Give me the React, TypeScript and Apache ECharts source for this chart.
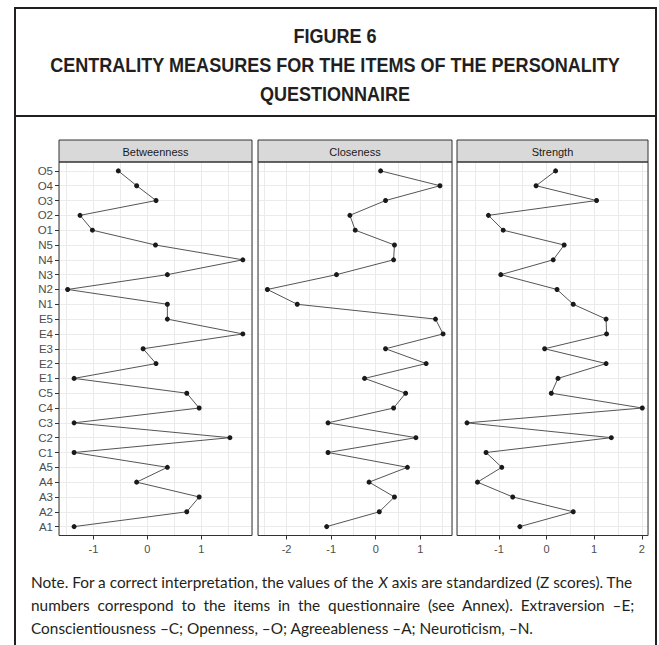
import React, { useEffect, useRef } from 'react';
import * as echarts from 'echarts';

// Items, bottom (A1) to top (O5)
const items = [
  'A1', 'A2', 'A3', 'A4', 'A5',
  'C1', 'C2', 'C3', 'C4', 'C5',
  'E1', 'E2', 'E3', 'E4', 'E5',
  'N1', 'N2', 'N3', 'N4', 'N5',
  'O1', 'O2', 'O3', 'O4', 'O5',
];

const measures = ['Betweenness', 'Closeness', 'Strength'];

const betweenness = [
  -1.36, 0.73, 0.96, -0.2, 0.37,
  -1.36, 1.53, -1.36, 0.96, 0.73,
  -1.36, 0.16, -0.08, 1.77, 0.37,
  0.37, -1.48, 0.37, 1.77, 0.15,
  -1.02, -1.25, 0.16, -0.2, -0.54,
];

const closeness = [
  -1.1, 0.08, 0.42, -0.15, 0.71,
  -1.07, 0.9, -1.07, 0.4, 0.67,
  -0.25, 1.13, 0.22, 1.51, 1.34,
  -1.76, -2.43, -0.88, 0.4, 0.42,
  -0.46, -0.58, 0.22, 1.44, 0.11,
];

const strength = [
  -0.56, 0.56, -0.71, -1.45, -0.94,
  -1.27, 1.36, -1.67, 2.01, 0.1,
  0.24, 1.25, -0.04, 1.26, 1.25,
  0.56, 0.22, -0.96, 0.14, 0.37,
  -0.91, -1.22, 1.05, -0.22, 0.19,
];

const xTickLabels = [
  [-1, 0, 1],
  [-2, -1, 0, 1],
  [-1, 0, 1, 2],
];

const titleLines = [
  'FIGURE 6',
  'CENTRALITY MEASURES FOR THE ITEMS OF THE PERSONALITY',
  'QUESTIONNAIRE',
];

const noteLine1 = ['Note. For a correct interpretation, the values of the ', 'X', ' axis are standardized (Z scores). The'];
const noteLine2 = 'numbers correspond to the items in the questionnaire (see Annex). Extraversion \u2013E;';
const noteLine3 = 'Conscientiousness \u2013C; Openness, \u2013O; Agreeableness \u2013A; Neuroticism, \u2013N.';

const W = 659;
const H = 645;

// layout
const panels = [
  { left: 59, width: 193, min: -1.64, max: 1.94, split: 7 },
  { left: 258, width: 194, min: -2.64, max: 1.71, split: 8 },
  { left: 457, width: 191, min: -1.88, max: 2.13, split: 8 },
];
const stripTop = 140;
const gridTop = 162;
const gridBottom = 535.5;

const AXIS_FONT = "'Liberation Sans', Arial, sans-serif";
const TITLE_FONT = "'Liberation Sans', Arial, sans-serif";
const NOTE_FONT = "Lato, 'Noto Sans', sans-serif";

function measure(text: string, font: string): number {
  const c = document.createElement('canvas').getContext('2d');
  if (!c) return text.length * 7;
  c.font = font;
  return c.measureText(text).width;
}

export default function App() {
  const ref = useRef<HTMLDivElement>(null);

  useEffect(() => {
    if (!ref.current) return;
    const chart = echarts.init(ref.current, undefined, { renderer: 'svg' });

    // title: fixed size, horizontally condensed to fit
    const titleSize = 21;
    const tW = measure(titleLines[1], `bold ${titleSize}px ${TITLE_FONT}`);
    const titleScale = Math.min(1, 570 / tW);

    // note font size fit
    const noteLeft = 31;
    const noteWidth = 602;
    const n1 =
      measure(noteLine1[0], `100px ${NOTE_FONT}`) +
      measure(noteLine1[1], `italic 100px ${NOTE_FONT}`) +
      measure(noteLine1[2], `100px ${NOTE_FONT}`);
    const noteSize = Math.min(15.5, (noteWidth * 100) / n1);
    // justify line 2 by adding spaces
    const l2w = measure(noteLine2, `${noteSize}px ${NOTE_FONT}`);
    const spW = measure(' ', `${noteSize}px ${NOTE_FONT}`);
    const words2 = noteLine2.split(' ');
    const extra = Math.max(0, Math.round((noteWidth - l2w) / spW));
    const gaps = words2.length - 1;
    let line2 = words2[0];
    for (let i = 1; i < words2.length; i++) {
      const add = Math.floor((extra * i) / gaps) - Math.floor((extra * (i - 1)) / gaps);
      line2 += ' '.repeat(1 + add) + words2[i];
    }

    const seriesData = [betweenness, closeness, strength];

    const grids = panels.map((p) => ({
      left: p.left,
      top: gridTop,
      width: p.width,
      height: gridBottom - gridTop,
      containLabel: false,
      show: false,
    }));

    const xAxes: any[] = [];
    panels.forEach((p, i) => {
      xAxes.push({
        type: 'value',
        gridIndex: i,
        min: p.min,
        max: p.max,
        splitNumber: p.split,
        position: 'bottom',
        axisLine: { show: false, onZero: false },
        axisTick: { show: false },
        axisLabel: {
          show: true,
          margin: 8,
          color: '#4d4d4d',
          fontSize: 11,
          fontFamily: AXIS_FONT,
          formatter: (v: number) => (Math.abs(v - Math.round(v)) < 1e-6 ? String(Math.round(v)) : ''),
        },
        splitLine: { show: true, lineStyle: { color: '#ebebeb', width: 1 } },
      });
    });
    panels.forEach((p, i) => {
      xAxes.push({
        type: 'value',
        gridIndex: i,
        min: p.min,
        max: p.max,
        position: 'bottom',
        offset: 0,
        axisLine: { show: false, onZero: false },
        axisTick: { show: true, length: 4, customValues: xTickLabels[i], lineStyle: { color: '#333333', width: 1 } },
        axisLabel: { show: false },
        splitLine: { show: false },
      });
    });

    const yAxes = panels.map((p, i) => ({
      type: 'value',
      gridIndex: i,
      min: -0.6,
      max: 24.6,
      splitNumber: 25,
      position: 'left',
      axisLine: { show: false, onZero: false },
      axisTick: {
        show: i === 0,
        length: 4,
        customValues: items.map((_, j) => j),
        lineStyle: { color: '#333333', width: 1 },
      },
      axisLabel: {
        show: i === 0,
        margin: 6,
        color: '#4d4d4d',
        fontSize: 11.5,
        fontFamily: AXIS_FONT,
        formatter: (v: number) =>
          Math.abs(v - Math.round(v)) < 1e-6 && Math.round(v) >= 0 && Math.round(v) < items.length
            ? items[Math.round(v)]
            : '',
      },
      splitLine: { show: true, lineStyle: { color: '#ebebeb', width: 1 } },
    }));

    const series = seriesData.map((vals, i) => ({
      type: 'line',
      name: measures[i],
      xAxisIndex: i,
      yAxisIndex: i,
      data: vals.map((v, j) => [v, j]),
      symbol: 'circle',
      symbolSize: 5,
      showSymbol: true,
      itemStyle: { color: '#1a1a1a' },
      lineStyle: { color: '#555555', width: 1 },
      z: 3,
    }));

    const graphics: any[] = [];
    const border = '#231f20';
    // frame
    graphics.push({ type: 'line', shape: { x1: 15, y1: 8, x2: 15, y2: H }, style: { stroke: border, lineWidth: 2 }, z: 20 });
    graphics.push({ type: 'line', shape: { x1: 656, y1: 8, x2: 656, y2: H }, style: { stroke: border, lineWidth: 2 }, z: 20 });
    graphics.push({ type: 'line', shape: { x1: 14, y1: 8, x2: 657, y2: 8 }, style: { stroke: border, lineWidth: 2 }, z: 20 });
    graphics.push({ type: 'line', shape: { x1: 14, y1: 116, x2: 657, y2: 116 }, style: { stroke: border, lineWidth: 2 }, z: 20 });

    // title
    const titleY = [35, 64, 93];
    titleLines.forEach((t, i) => {
      graphics.push({
        type: 'text',
        z: 20,
        x: 335,
        y: titleY[i],
        scaleX: titleScale,
        style: {
          text: t,
          x: 0,
          y: 0,
          align: 'center',
          verticalAlign: 'middle',
          textAlign: 'center',
          textVerticalAlign: 'middle',
          fill: border,
          fontSize: titleSize,
          fontWeight: 'bold',
          fontFamily: TITLE_FONT,
        },
      });
    });

    // strips and panel borders
    panels.forEach((p, i) => {
      graphics.push({
        type: 'rect',
        z: 10,
        shape: { x: p.left, y: stripTop, width: p.width, height: gridTop - stripTop },
        style: { fill: '#d9d9d9', stroke: '#333333', lineWidth: 1 },
      });
      graphics.push({
        type: 'text',
        z: 11,
        style: {
          text: measures[i],
          x: p.left + p.width / 2,
          y: (stripTop + gridTop) / 2 + 0.5,
          align: 'center',
          verticalAlign: 'middle',
          textAlign: 'center',
          textVerticalAlign: 'middle',
          fill: '#1a1a1a',
          fontSize: 11,
          fontFamily: AXIS_FONT,
        },
      });
      graphics.push({
        type: 'rect',
        z: 10,
        shape: { x: p.left, y: gridTop, width: p.width, height: gridBottom - gridTop },
        style: { fill: 'none', stroke: '#333333', lineWidth: 1 },
      });
    });

    // note
    const noteY = [582, 605, 628];
    graphics.push({
      type: 'text',
      z: 20,
      style: {
        text: `{n|${noteLine1[0]}}{i|${noteLine1[1]}}{n|${noteLine1[2]}}`,
        x: noteLeft,
        y: noteY[0],
        align: 'left',
        verticalAlign: 'middle',
        textAlign: 'left',
        textVerticalAlign: 'middle',
        fill: border,
        fontSize: noteSize,
        fontFamily: NOTE_FONT,
        rich: {
          n: { fontSize: noteSize, fontFamily: NOTE_FONT, fill: border, color: border },
          i: { fontSize: noteSize, fontFamily: NOTE_FONT, fontStyle: 'italic', fill: border, color: border },
        },
      },
    });
    [line2, noteLine3].forEach((t, k) => {
      graphics.push({
        type: 'text',
        z: 20,
        style: {
          text: t,
          x: noteLeft,
          y: noteY[k + 1],
          align: 'left',
          verticalAlign: 'middle',
          textAlign: 'left',
          textVerticalAlign: 'middle',
          fill: border,
          fontSize: noteSize,
          fontFamily: NOTE_FONT,
        },
      });
    });

    chart.setOption({
      animation: false,
      backgroundColor: '#ffffff',
      grid: grids,
      xAxis: xAxes,
      yAxis: yAxes,
      series,
      graphic: graphics,
    });

    return () => {
      chart.dispose();
    };
  }, []);

  return (
    <div
      ref={ref}
      style={{ position: 'absolute', left: 0, top: 0, width: W, height: H, background: '#fff' }}
    />
  );
}
